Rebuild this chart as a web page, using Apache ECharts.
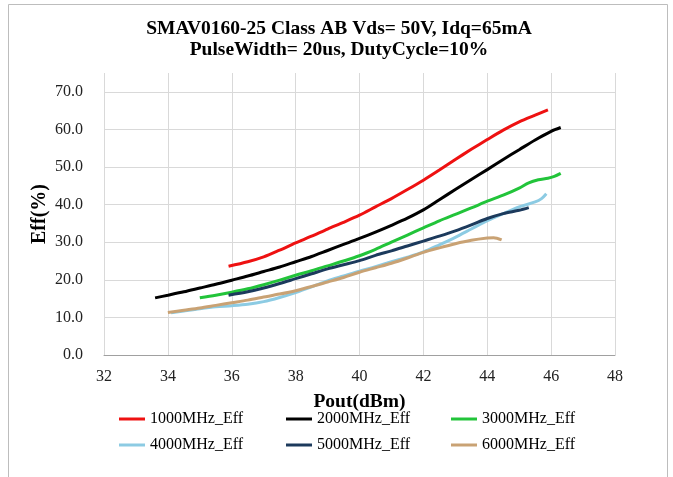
<!DOCTYPE html>
<html>
<head>
<meta charset="utf-8">
<script src="https://cdn.jsdelivr.net/npm/echarts@6/dist/echarts.min.js"></script>
<style>html,body{margin:0;padding:0;background:#fff}#c{width:673px;height:477px}</style>
</head>
<body>
<div id="c"></div>
<script>
var titleLines = ['SMAV0160-25 Class AB Vds= 50V, Idq=65mA', 'PulseWidth= 20us, DutyCycle=10%'];
var xName = 'Pout(dBm)';
var yName = 'Eff(%)';
var seriesNames = ['1000MHz_Eff', '2000MHz_Eff', '3000MHz_Eff', '4000MHz_Eff', '5000MHz_Eff', '6000MHz_Eff'];

var pout1000 = [35.9, 36.5, 37, 37.5, 38, 38.5, 39, 39.5, 40, 40.5, 41, 41.5, 42, 42.5, 43, 43.5, 44, 44.5, 45, 45.5, 45.9];
var eff1000  = [23.6, 24.8, 26.1, 27.9, 29.8, 31.6, 33.5, 35.3, 37.2, 39.4, 41.6, 44.0, 46.5, 49.2, 52.0, 54.7, 57.3, 59.8, 62.0, 63.8, 65.2];

var pout2000 = [33.6, 34, 34.5, 35, 35.5, 36, 36.5, 37, 37.5, 38, 38.5, 39, 39.5, 40, 40.5, 41, 41.5, 42, 42.5, 43, 43.5, 44, 44.5, 45, 45.5, 46, 46.3];
var eff2000  = [15.2, 15.9, 16.8, 17.8, 18.8, 19.9, 21.0, 22.2, 23.4, 24.8, 26.2, 27.8, 29.4, 31.0, 32.7, 34.5, 36.4, 38.6, 41.3, 44.0, 46.7, 49.3, 52.0, 54.6, 57.2, 59.5, 60.5];

var pout3000 = [35, 35.5, 36, 36.5, 37, 37.5, 38, 38.5, 39, 39.5, 40, 40.5, 41, 41.5, 42, 42.5, 43, 43.5, 44, 44.5, 45, 45.3, 45.6, 45.9, 46.1, 46.3];
var eff3000  = [15.2, 15.9, 16.7, 17.6, 18.7, 19.9, 21.2, 22.4, 23.7, 25.0, 26.4, 28.1, 30.0, 31.9, 33.8, 35.7, 37.4, 39.1, 40.9, 42.5, 44.4, 45.8, 46.6, 47.0, 47.5, 48.3];

var pout4000 = [34.1, 34.5, 35, 35.5, 36, 36.5, 37, 37.5, 38, 38.5, 39, 39.5, 40, 40.5, 41, 41.5, 42, 42.5, 43, 43.5, 44, 44.5, 45, 45.5, 45.7, 45.85];
var eff4000  = [11.2, 11.7, 12.3, 12.8, 13.1, 13.5, 14.2, 15.3, 16.6, 18.1, 19.7, 21.0, 22.3, 23.5, 24.8, 26.0, 27.4, 29.3, 31.3, 33.5, 35.7, 37.6, 39.4, 40.7, 41.6, 42.9];

var pout5000 = [35.9, 36.5, 37, 37.5, 38, 38.5, 39, 39.5, 40, 40.5, 41, 41.5, 42, 42.5, 43, 43.5, 44, 44.5, 45, 45.3];
var eff5000  = [15.9, 16.8, 17.8, 19.0, 20.3, 21.6, 22.9, 24.0, 25.1, 26.5, 27.7, 29.0, 30.3, 31.6, 33.0, 34.6, 36.3, 37.6, 38.5, 39.2];

var pout6000 = [34, 34.5, 35, 35.5, 36, 36.5, 37, 37.5, 38, 38.5, 39, 39.5, 40, 40.5, 41, 41.5, 42, 42.5, 43, 43.5, 44, 44.2, 44.45];
var eff6000  = [11.3, 11.9, 12.5, 13.2, 13.9, 14.6, 15.4, 16.2, 17.1, 18.2, 19.4, 20.6, 22.0, 23.2, 24.4, 25.8, 27.3, 28.5, 29.6, 30.5, 31.1, 31.2, 30.6];

var colors = ['#ee1111', '#000000', '#22c43a', '#8ccbe3', '#1c3a5c', '#c9a274'];

var xs = [pout1000, pout2000, pout3000, pout4000, pout5000, pout6000];
var ys = [eff1000, eff2000, eff3000, eff4000, eff5000, eff6000];

function zip(a, b) { return a.map(function (v, i) { return [v, b[i]]; }); }

var font = 'Liberation Serif, Times New Roman, serif';

var series = seriesNames.map(function (n, i) {
  return {
    name: n, type: 'line', data: zip(xs[i], ys[i]), smooth: 0.3,
    showSymbol: false, symbol: 'none',
    lineStyle: { color: colors[i], width: 3 },
    itemStyle: { color: colors[i] }
  };
});

var legendLeft = [119, 286, 451];
var legendTop = [411, 437];
var legends = seriesNames.map(function (n, i) {
  return {
    data: [n], left: legendLeft[i % 3], top: legendTop[Math.floor(i / 3)],
    padding: 0, icon: 'rect', itemWidth: 26, itemHeight: 3,
    textStyle: { fontFamily: font, fontSize: 16, color: '#000', lineHeight: 16 }
  };
});

var chart = echarts.init(document.getElementById('c'), null, { renderer: 'canvas' });
chart.setOption({
  animation: false,
  backgroundColor: '#fff',
  title: {
    text: titleLines.join('\n'), left: 339, textAlign: 'center', top: 18, padding: 0,
    textStyle: { fontFamily: font, fontSize: 19.5, fontWeight: 'bold', color: '#000', lineHeight: 21 }
  },
  graphic: [{
    type: 'rect', shape: { x: 8.5, y: 4.5, width: 659, height: 480 },
    style: { fill: 'none', stroke: '#bdbdbd', lineWidth: 1 }, silent: true, z: -1
  }],
  legend: legends,
  grid: { left: 104, right: 58, top: 73, bottom: 122, containLabel: false },
  xAxis: {
    type: 'value', min: 32, max: 48, interval: 2,
    name: xName, nameLocation: 'middle', nameGap: 37, nameMoveOverlap: false,
    nameTextStyle: { fontFamily: font, fontSize: 19.5, fontWeight: 'bold', color: '#000' },
    axisLine: { show: true, lineStyle: { color: '#a0a0a0', width: 1 } },
    axisTick: { show: false },
    axisLabel: { fontFamily: font, fontSize: 16, color: '#222', margin: 14 },
    splitLine: { show: true, lineStyle: { color: '#d9d9d9', width: 1 } }
  },
  yAxis: {
    type: 'value', min: 0, max: 75, interval: 10,
    name: yName, nameLocation: 'middle', nameGap: 54, nameRotate: 90, nameMoveOverlap: false,
    nameTextStyle: { fontFamily: font, fontSize: 20, fontWeight: 'bold', color: '#000' },
    axisLine: { show: false },
    axisTick: { show: false },
    axisLabel: {
      fontFamily: font, fontSize: 16, color: '#222', margin: 21, showMaxLabel: false,
      formatter: function (v) { return v > 70 ? '' : v.toFixed(1); }
    },
    splitLine: { show: true, showMaxLine: false, lineStyle: { color: '#d9d9d9', width: 1 } }
  },
  series: series
});
</script>
</body>
</html>
